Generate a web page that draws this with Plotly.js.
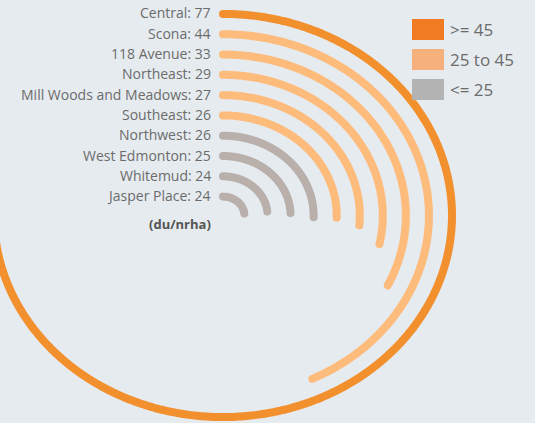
<!DOCTYPE html>
<html>
<head>
<meta charset="utf-8">
<script src="https://cdn.plot.ly/plotly-3.0.1.min.js"></script>
<style>
  html, body { margin: 0; padding: 0; background: #e6ebf0; }
  #chart { width: 535px; height: 423px; }
  .js-line { stroke-linecap: round !important; stroke-linejoin: round !important; }
</style>
</head>
<body>
<div id="chart"></div>
<script>
// ---- data ----
const categories = ['Central', 'Scona', '118 Avenue', 'Northeast', 'Mill Woods and Meadows',
                    'Southeast', 'Northwest', 'West Edmonton', 'Whitemud', 'Jasper Place'];
const values = [77, 44, 33, 29, 27, 26, 26, 25, 24, 24];
const groups = ['>= 45', '25 to 45', '25 to 45', '25 to 45', '25 to 45',
                '25 to 45', '<= 25', '<= 25', '<= 25', '<= 25'];
const legendLabels = ['>= 45', '25 to 45', '<= 25'];
const unitLabel = '(du/nrha)';

// ---- styles ----
const bg = '#e6ebf0';
const arcColors = { '>= 45': '#f3902e', '25 to 45': '#fdbb7c', '<= 25': '#b9afab' };
const legendColors = { '>= 45': '#f07b22', '25 to 45': '#f5b07c', '<= 25': '#b3b3b3' };
const textColor = '#6b6b6b';
const maxSweep = 270;   // degrees for the largest value
const hole = 0.93;      // radius of innermost ring (axis units)

const n = categories.length;
const vmax = Math.max(...values);
const traces = [];
const annotations = [];

categories.forEach((cat, i) => {
  const r = hole + (n - 1 - i);
  const sweep = values[i] / vmax * maxSweep;
  const steps = Math.max(2, Math.ceil(sweep * 2));
  const xs = [], ys = [];
  for (let s = 0; s <= steps; s++) {
    const a = (sweep * s / steps) * Math.PI / 180;
    xs.push(r * Math.sin(a));
    ys.push(r * Math.cos(a));
  }
  traces.push({
    type: 'scatter', mode: 'lines', x: xs, y: ys,
    line: { color: arcColors[groups[i]], width: 8, simplify: false },
    hoverinfo: 'skip', showlegend: false, name: cat
  });
  annotations.push({
    x: 0, y: r, xref: 'x', yref: 'y', xanchor: 'right', yanchor: 'middle',
    xshift: -10, yshift: 1, showarrow: false,
    text: cat + ': ' + values[i],
    font: { family: 'Open Sans', size: 14, color: textColor }
  });
});

annotations.push({
  x: 0, y: 0, xref: 'x', yref: 'y', xanchor: 'right', yanchor: 'middle',
  xshift: -10, yshift: -8, showarrow: false,
  text: '<b>' + unitLabel + '</b>',
  font: { family: 'Open Sans', size: 13, color: '#555555' }
});

// legend (drawn as boxes + text)
const shapes = [];
const W = 535, H = 423;
legendLabels.forEach((lab, j) => {
  const top = 19 + 30 * j;
  shapes.push({
    type: 'rect', xref: 'paper', yref: 'paper',
    x0: 412 / W, x1: 444 / W, y0: 1 - (top + 21) / H, y1: 1 - top / H,
    fillcolor: legendColors[lab], line: { width: 0 }
  });
  annotations.push({
    x: 448 / W, y: 1 - (top + 11) / H, xref: 'paper', yref: 'paper',
    xanchor: 'left', yanchor: 'middle', showarrow: false, text: lab,
    font: { family: 'Open Sans', size: 17, color: textColor }
  });
});

const kx = 23.06, ky = 20.3, cx = 223, cy = 215.5;
const layout = {
  width: W, height: H,
  margin: { l: 0, r: 0, t: 0, b: 0 },
  paper_bgcolor: bg, plot_bgcolor: bg,
  xaxis: { range: [-cx / kx, (W - cx) / kx], visible: false, fixedrange: true },
  yaxis: { range: [-(H - cy) / ky, cy / ky], visible: false, fixedrange: true },
  showlegend: false,
  annotations: annotations,
  shapes: shapes
};

Plotly.newPlot('chart', traces, layout, { displayModeBar: false, staticPlot: true });
</script>
</body>
</html>
